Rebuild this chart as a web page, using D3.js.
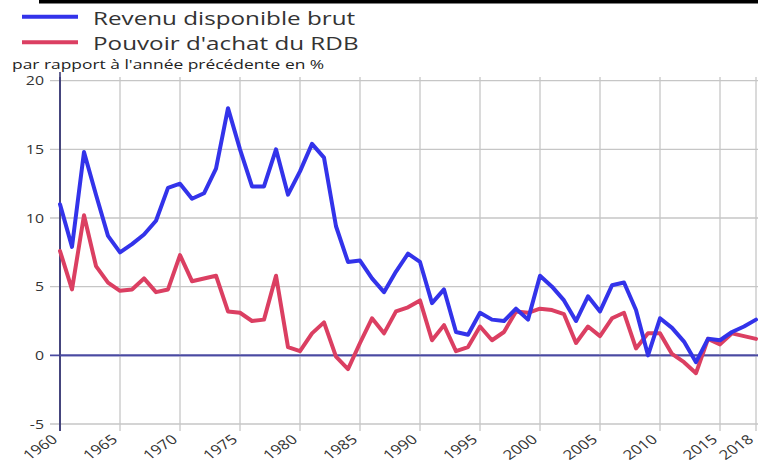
<!DOCTYPE html>
<html><head><meta charset="utf-8">
<script src="https://cdn.jsdelivr.net/npm/d3@7"></script>
<style>html,body{margin:0;padding:0;background:#fff;}svg{display:block;font-family:"Open Sans",sans-serif;}</style>
</head><body>
<svg id="c" width="758" height="463"></svg>
<script>
const years = d3.range(1960, 2019);
const rdb = [11.0,7.9,14.8,11.7,8.7,7.5,8.1,8.8,9.8,12.2,12.5,11.4,11.8,13.6,18.0,15.0,12.3,12.3,15.0,11.7,
  13.4,15.4,14.4,9.4,6.8,6.9,5.6,4.6,6.1,7.4,6.8,3.8,4.8,1.7,1.5,3.1,2.6,2.5,3.4,2.6,
  5.8,5.0,4.0,2.5,4.3,3.2,5.1,5.3,3.3,0.0,2.7,2.0,1.0,-0.5,1.2,1.1,1.7,2.1,2.6];
const pouvoir = [7.6,4.8,10.2,6.5,5.3,4.7,4.8,5.6,4.6,4.8,7.3,5.4,5.6,5.8,3.2,3.1,2.5,2.6,5.8,0.6,
  0.3,1.6,2.4,-0.1,-1.0,0.9,2.7,1.6,3.2,3.5,4.0,1.1,2.2,0.3,0.6,2.1,1.1,1.7,3.2,3.1,
  3.4,3.3,3.0,0.9,2.1,1.4,2.7,3.1,0.5,1.6,1.6,0.1,-0.5,-1.3,1.2,0.8,1.6,1.4,1.2];
const xTicks = [1960,1965,1970,1975,1980,1985,1990,1995,2000,2005,2010,2015,2018];
const yTicks = [-5,0,5,10,15,20];
const seriesNames = ["Revenu disponible brut","Pouvoir d'achat du RDB"];
const subtitle = "par rapport à l'année précédente en %";
const colors = ["#3333ea","#db3f62"];

const SX = 1.27; // horizontal text stretch
const svg = d3.select("#c");
const x = d3.scaleLinear().domain([1960,2018]).range([60,756]);
const y = d3.scaleLinear().domain([-5,20]).range([424,80.7]);

// top black bar
svg.append("rect").attr("x",39).attr("y",0).attr("width",719).attr("height",3.5).attr("fill","#000");

// grid
const g = svg.append("g");
g.selectAll(".hg").data(yTicks).join("line")
  .attr("x1",50).attr("x2",758).attr("y1",d=>y(d)).attr("y2",d=>y(d))
  .attr("stroke",d=>d===0?"#4a4aa2":"#c6c6c6").attr("stroke-width",d=>d===0?1.6:1.3);
g.selectAll(".vg").data(xTicks).join("line")
  .attr("x1",d=>x(d)).attr("x2",d=>x(d)).attr("y1",77).attr("y2",431)
  .attr("stroke",d=>d===1960?"#3e3e78":"#c6c6c6").attr("stroke-width",d=>d===1960?1.6:1.3);
g.append("line").attr("x1",x(1960)).attr("x2",x(1960)).attr("y1",72).attr("y2",431)
  .attr("stroke","#3e3e78").attr("stroke-width",1.6);
g.append("line").attr("x1",x(1960)).attr("x2",758).attr("y1",y(0)).attr("y2",y(0))
  .attr("stroke","#4a4aa2").attr("stroke-width",1.6);

// y tick labels
svg.selectAll(".yl").data(yTicks).join("text")
  .attr("transform",d=>`translate(44,${y(d)+4.5}) scale(${SX},1)`)
  .attr("text-anchor","end").attr("font-size",12.5).attr("fill","#333")
  .text(d=>d);

// x tick labels (rotated)
svg.selectAll(".xl").data(xTicks).join("text")
  .attr("transform",d=>`translate(${x(d)-1.5},${441}) scale(${SX},1) rotate(-40)`)
  .attr("text-anchor","end").attr("font-size",13.2).attr("fill","#333")
  .text(d=>d);

// lines
const line = d3.line().x((d,i)=>x(years[i])).y(d=>y(d));
[pouvoir, rdb].forEach((s,k)=>{
  const c = k===0?colors[1]:colors[0];
  svg.append("path").datum(s).attr("d",line).attr("fill","none")
    .attr("stroke",c).attr("stroke-width",4).attr("stroke-linejoin","round").attr("stroke-linecap","round");
});

// legend
const leg = svg.append("g");
seriesNames.forEach((n,i)=>{
  const ly = [16.7,42.3][i];
  leg.append("line").attr("x1",22).attr("x2",78).attr("y1",ly).attr("y2",ly)
    .attr("stroke",colors[i]).attr("stroke-width",4);
  leg.append("text").attr("transform",`translate(93,${ly+8}) scale(1.31,1)`)
    .attr("font-size",18.5).attr("fill","#333").text(n);
});
svg.append("text").attr("transform",`translate(12,68.5) scale(1.36,1)`)
  .attr("font-size",12.8).attr("fill","#222").text(subtitle);
</script>
</body></html>
